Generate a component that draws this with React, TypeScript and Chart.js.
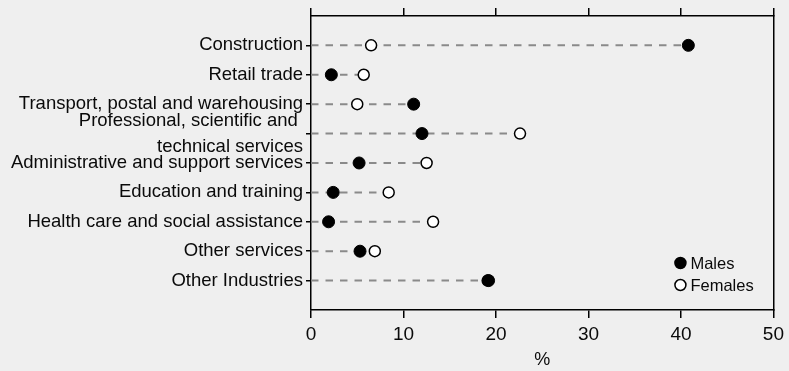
import React, { useEffect, useRef } from 'react';
import { Chart, registerables } from 'chart.js';

Chart.register(...registerables);

const categories: (string | string[])[] = [
  'Construction',
  'Retail trade',
  'Transport, postal and warehousing',
  ['Professional, scientific and ', 'technical services'],
  'Administrative and support services',
  'Education and training',
  'Health care and social assistance',
  'Other services',
  'Other Industries',
];
const males = [40.8, 2.2, 11.1, 12.0, 5.2, 2.4, 1.9, 5.3, 19.2];
const females = [6.5, 5.7, 5.0, 22.6, 12.5, 8.4, 13.2, 6.9, 19.1];
const xMin = 0;
const xMax = 50;
const xStep = 10;
const xTitle = '%';
const seriesNames = ['Males', 'Females'];

const FONT = "'Liberation Sans', Arial, sans-serif";
const BG = '#efefef';
const INK = '#0a0a0a';

const legendPlugin = {
  id: 'insideLegend',
  afterDatasetsDraw(chart: any) {
    const { ctx, chartArea } = chart;
    const items = seriesNames
      .map((n) => chart.data.datasets.find((d: any) => d.legendItem && d.label === n))
      .filter(Boolean);
    ctx.save();
    ctx.font = `16.5px ${FONT}`;
    ctx.textBaseline = 'middle';
    ctx.textAlign = 'left';
    items.forEach((d: any, i: number) => {
      const cx = chartArea.right - 93;
      const cy = chartArea.bottom - 47 + i * 22;
      ctx.beginPath();
      ctx.arc(cx, cy, 5.5, 0, Math.PI * 2);
      ctx.fillStyle = d.pointBackgroundColor;
      ctx.fill();
      ctx.lineWidth = 1.5;
      ctx.strokeStyle = d.pointBorderColor;
      ctx.stroke();
      ctx.fillStyle = INK;
      ctx.fillText(d.label, cx + 10, cy + 1);
    });
    ctx.restore();
  },
};

const bgPlugin = {
  id: 'bg',
  beforeDraw(chart: any) {
    const { ctx, width, height } = chart;
    ctx.save();
    ctx.fillStyle = BG;
    ctx.fillRect(0, 0, width, height);
    ctx.restore();
  },
};

export default function App() {
  const ref = useRef<HTMLCanvasElement>(null);

  useEffect(() => {
    if (!ref.current) return;
    const lineSets = categories.map((_, i) => ({
      type: 'line' as const,
      label: '',
      data: [
        { x: 0, y: i },
        { x: Math.max(males[i], females[i]), y: i },
      ],
      borderColor: '#8a8a8a',
      borderWidth: 2,
      borderDash: [7.5, 7],
      pointRadius: 0,
      showLine: true,
      order: 5,
    }));

    const chart = new Chart(ref.current, {
      type: 'scatter',
      data: {
        datasets: [
          ...lineSets,
          {
            label: seriesNames[1],
            legendItem: true,
            data: females.map((v, i) => ({ x: v, y: i })),
            pointRadius: 5.5,
            pointBackgroundColor: '#ffffff',
            pointBorderColor: '#000000',
            pointBorderWidth: 1.5,
            order: 1,
          } as any,
          {
            label: seriesNames[0],
            legendItem: true,
            data: males.map((v, i) => ({ x: v, y: i })),
            pointRadius: 6,
            pointBackgroundColor: '#000000',
            pointBorderColor: '#000000',
            pointBorderWidth: 1,
            order: 0,
          } as any,
        ],
      },
      options: {
        animation: false,
        responsive: false,
        devicePixelRatio: 1,
        layout: { padding: 0 },
        plugins: {
          legend: { display: false },
          tooltip: { enabled: false },
        },
        scales: {
          x: {
            type: 'linear',
            position: 'bottom',
            min: xMin,
            max: xMax,
            ticks: {
              stepSize: xStep,
              color: INK,
              font: { family: FONT, size: 19 },
              padding: 5,
            },
            grid: {
              drawOnChartArea: false,
              drawTicks: true,
              tickLength: 8,
              color: '#000',
              lineWidth: 1.5,
            },
            border: { display: true, color: '#000', width: 1.5 },
            title: {
              display: true,
              text: xTitle,
              color: INK,
              font: { family: FONT, size: 18 },
              padding: { top: 0, bottom: 0 },
            },
            afterFit: (s: any) => {
              s.height = 61;
            },
          },
          x2: {
            type: 'linear',
            position: 'top',
            min: xMin,
            max: xMax,
            ticks: { stepSize: xStep, display: false },
            grid: {
              drawOnChartArea: false,
              drawTicks: true,
              tickLength: 8,
              color: '#000',
              lineWidth: 1.5,
            },
            border: { display: true, color: '#000', width: 1.5 },
            afterFit: (s: any) => {
              s.height = 13;
            },
          },
          y: {
            type: 'linear',
            position: 'left',
            reverse: true,
            min: -1,
            max: categories.length,
            ticks: {
              stepSize: 1,
              autoSkip: false,
              color: INK,
              font: { family: FONT, size: 18.5, lineHeight: 1.4 },
              padding: 3,
              callback: (v: any) => {
                const i = Number(v);
                return i >= 0 && i < categories.length ? (categories[i] as any) : '';
              },
            },
            grid: {
              drawOnChartArea: false,
              drawTicks: true,
              tickLength: 5,
              lineWidth: 1.5,
              tickColor: (c: any) =>
                c.tick && c.tick.value >= 0 && c.tick.value < categories.length ? '#000' : 'rgba(0,0,0,0)',
              color: '#000',
            },
            border: { display: true, color: '#000', width: 1.5 },
            afterFit: (s: any) => {
              s.width = 311;
            },
          },
          y2: {
            type: 'linear',
            position: 'right',
            min: -1,
            max: categories.length,
            ticks: { display: false },
            grid: { drawOnChartArea: false, drawTicks: false },
            border: { display: true, color: '#000', width: 1.5 },
            afterFit: (s: any) => {
              s.width = 14;
            },
          },
        },
      } as any,
      plugins: [bgPlugin, legendPlugin],
    });
    return () => chart.destroy();
  }, []);

  return (
    <div style={{ position: 'absolute', left: 0, top: 0, width: 789, height: 371, background: BG }}>
      <canvas ref={ref} width={789} height={371} />
    </div>
  );
}
